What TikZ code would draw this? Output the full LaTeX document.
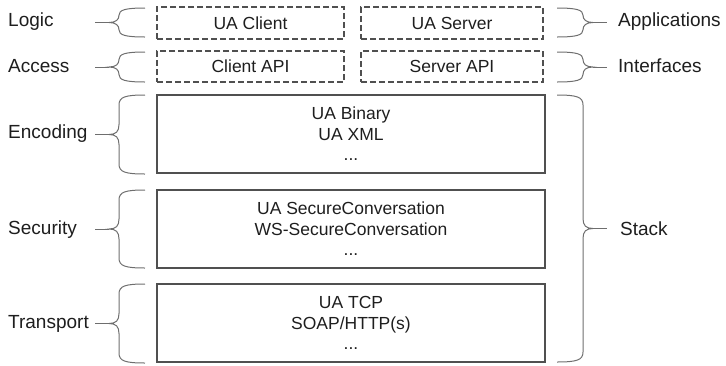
\documentclass[tikz,border=0pt]{standalone}
\usepackage{fontspec}
\setmainfont{Liberation Sans}
\usepackage{tikz}
\usetikzlibrary{positioning, calc}

\definecolor{linegray}{HTML}{505050}
\definecolor{bracegray}{HTML}{6E6E6E}
\definecolor{inkgray}{HTML}{1E1E1E}

% curly brace: sign (-1 left / 1 right), x of the ends, top y, bottom y
\newcommand{\layerbrace}[4]{%
  \pgfmathsetmacro{\bym}{(#3+#4)/2}%
  \pgfmathsetmacro{\brr}{min(10,(#4-#3)/4)}%
  \pgfmathsetmacro{\bxa}{#2+(#1)*20}%
  \pgfmathsetmacro{\bxs}{#2+(#1)*26}%
  \pgfmathsetmacro{\bxb}{#2+(#1)*29}%
  \pgfmathsetmacro{\bxt}{#2+(#1)*36}%
  \pgfmathsetmacro{\bxe}{#2+(#1)*50}%
  \draw[bracestyle] (#2,#3) .. controls (\bxa,#3) and (\bxs,#3+2) .. (\bxs,#3+\brr)
    -- (\bxs,\bym-\brr) .. controls (\bxs,\bym-3) and (\bxb,\bym) .. (\bxt,\bym)
    .. controls (\bxb,\bym) and (\bxs,\bym+3) .. (\bxs,\bym+\brr)
    -- (\bxs,#4-\brr) .. controls (\bxs,#4-2) and (\bxa,#4) .. (#2,#4);
  \draw[bracestyle] (\bxt,\bym) -- (\bxe,\bym);
}

\begin{document}
\begin{tikzpicture}[
    x=1pt, y=-1pt,
    layer/.style={draw=linegray, line width=1.3pt, minimum width=388pt, minimum height=78pt,
      align=center, text=inkgray, font=\fontsize{17.5}{20.5}\selectfont},
    apibox/.style={layer, dash pattern=on 6pt off 3pt, minimum height=32pt},
    lbl/.style={anchor=west, inner sep=0pt, text=inkgray, font=\fontsize{19}{22}\selectfont},
    bracestyle/.style={draw=bracegray, line width=1pt}
]
\useasboundingbox (0,0) rectangle (726,365);

% Applications and interfaces
\node[apibox, minimum width=187pt] (client) at (250.5,23) {UA Client};
\node[apibox, minimum width=182pt] (server) at (452,23) {UA Server};
\node[apibox, minimum width=187pt, minimum height=31pt] (clientapi) at (250.5,66.5) {Client API};
\node[apibox, minimum width=182pt, minimum height=31pt] (serverapi) at (452,66.5) {Server API};

% Stack layers
\node[layer] (encoding) at (351,134) {UA Binary\\UA XML\\...};
\node[layer] (security) at (351,229) {UA SecureConversation\\WS-SecureConversation\\...};
\node[layer] (transport) at (351,323) {UA TCP\\SOAP/HTTP(s)\\...};

% Labels
\node[lbl] (logic) at (8,22) {Logic};
\node[lbl] (access) at (8,66) {Access};
\node[lbl] (encodinglbl) at (8,134) {Encoding};
\node[lbl] (securitylbl) at (8,230) {Security};
\node[lbl] (transportlbl) at (8,324) {Transport};
\node[lbl] (applications) at (618,22) {Applications};
\node[lbl] (interfaces) at (618,66) {Interfaces};
\node[lbl] (stack) at (620,229) {Stack};

% Braces
\foreach \s/\x/\ya/\yb in {-1/145/8/37, -1/145/52/82, -1/145/95/174, -1/145/190/268, -1/145/284/363,
                          1/557/8/37, 1/557/52/82, 1/557/95/362} {
    \layerbrace{\s}{\x}{\ya}{\yb}
}

\end{tikzpicture}
\end{document}
